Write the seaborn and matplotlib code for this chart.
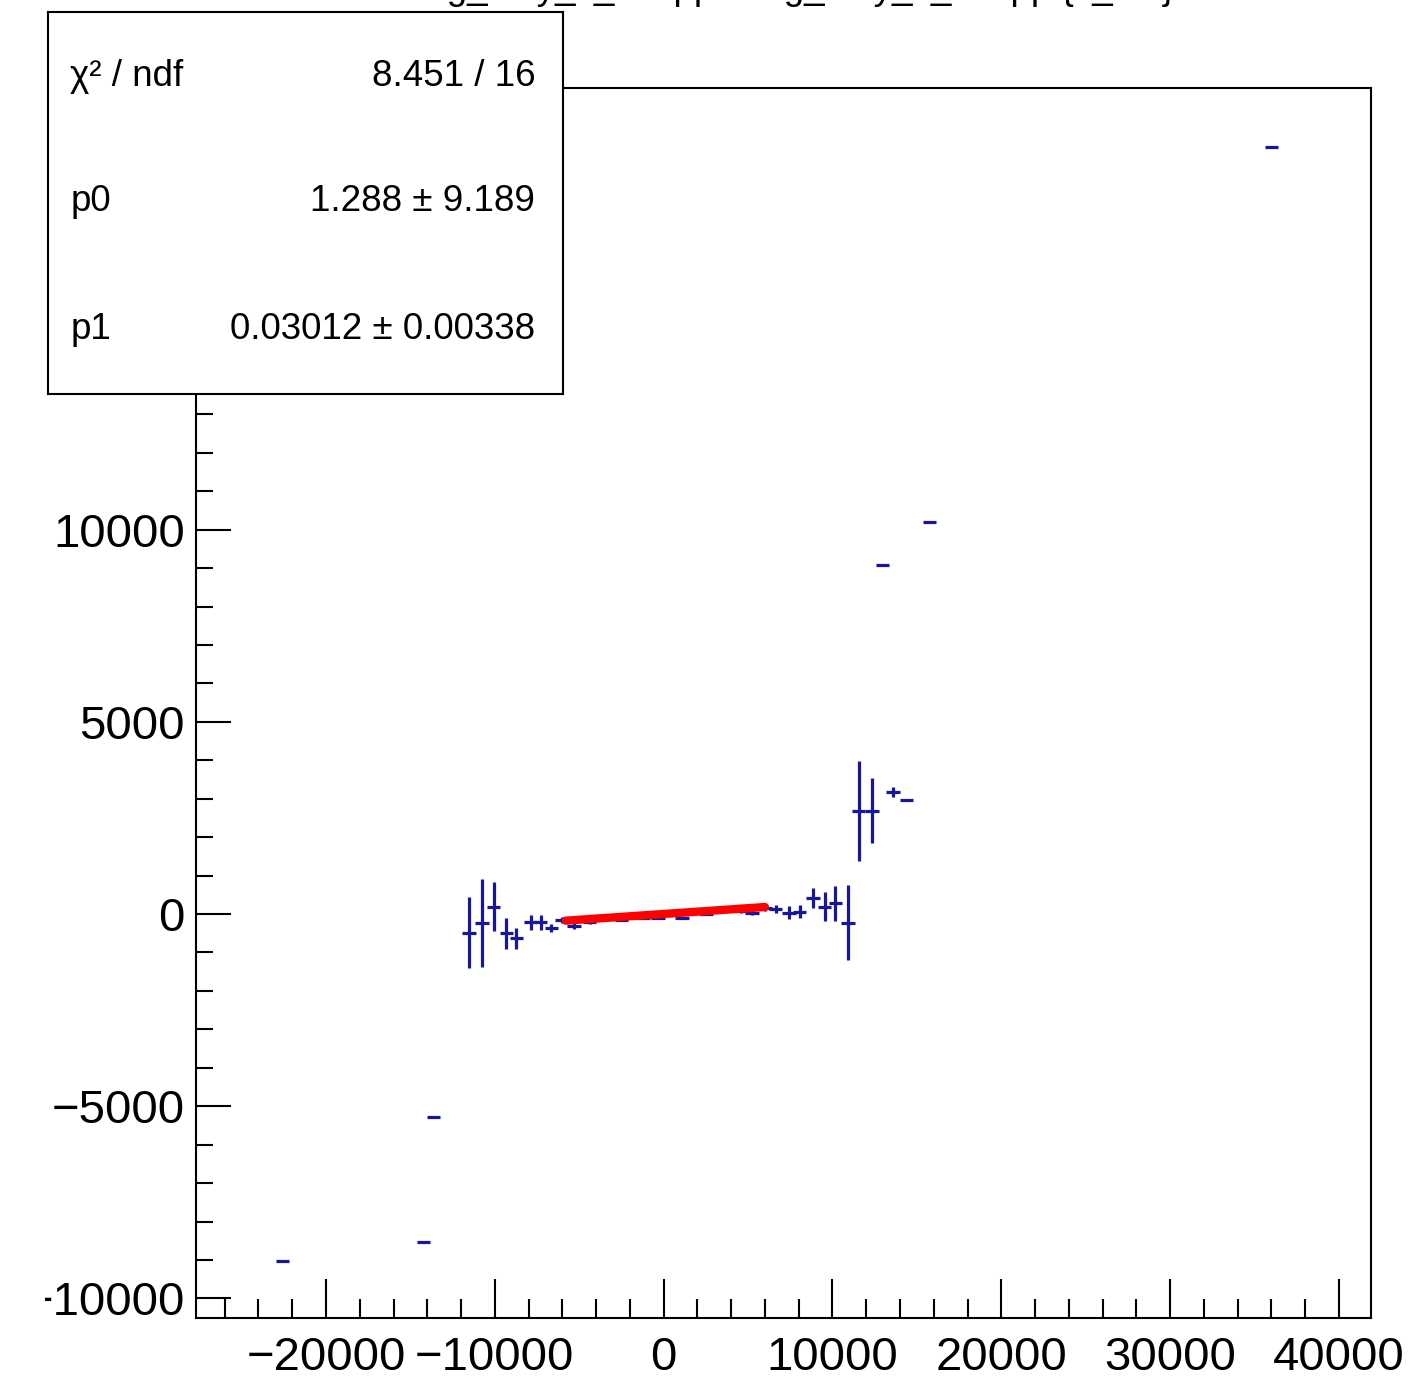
import numpy as np
import pandas as pd
import matplotlib
matplotlib.use('Agg')
import matplotlib.pyplot as plt
import seaborn as sns
from matplotlib.ticker import MultipleLocator
from matplotlib.transforms import Bbox, TransformedBbox

# data (profile points, x centre / mean / error)
x_vals = [-22570, -14220, -13630, -11530, -10750, -10070, -9320, -8730, -7880, -7290,
          -6650, -6020, -5310, -4380, -2500, -1220, -340, 1100, 2530, 4600,
          5230, 5990, 6630, 7420, 8060, 8850, 9540, 10170, 10920, 11550,
          12340, 12970, 13580, 14380, 15760, 36020]
y_vals = [-9030, -8530, -5280, -486, -226, 190, -502, -632, -216, -216,
          -372, -156, -312, -216, -156, -112, -96, -96, -8, 78,
          30, 150, 125, 34, 60, 405, 190, 278, -226, 2687,
          2687, 9080, 3182, 2966, 10200, 19950]
y_errs = [0, 0, 0, 920, 1140, 640, 400, 270, 190, 190,
          100, 80, 80, 40, 30, 30, 30, 30, 30, 40,
          50, 80, 100, 170, 170, 260, 380, 460, 980, 1300,
          850, 0, 130, 0, 0, 0]
bin_half_width = 400

# fit result (pol1) shown in the stats box
fit_range = [-5800, 6000]
p0, p0_err = 1.288, 9.189
p1, p1_err = 0.03012, 0.00338
chi2, ndf = 8.451, 16

title = "avg_dely_x_adcpp : avg_dely_x_adcpp {x_cut}"

df = pd.DataFrame({'x': x_vals, 'y': y_vals, 'ey': y_errs})
fit = pd.DataFrame({'x': fit_range})
fit['y'] = p0 + p1 * fit['x']

sns.set_style('ticks')
plt.rcParams['font.family'] = ['Liberation Sans', 'DejaVu Sans']
plt.rcParams['text.color'] = 'black'
plt.rcParams['xtick.labelcolor'] = 'black'
plt.rcParams['ytick.labelcolor'] = 'black'

W, H = 1409, 1378
fig = plt.figure(figsize=(W / 100, H / 100), dpi=100)
ax = fig.add_axes([196 / W, 1 - 1318 / H, (1371 - 196) / W, (1318 - 88) / H])

ax.errorbar(df['x'], df['y'], xerr=bin_half_width, yerr=df['ey'], fmt='none',
            ecolor='#17179e', elinewidth=2.3, capsize=0, zorder=3)
sns.lineplot(data=fit, x='x', y='y', ax=ax, color='#ff0000', linewidth=6, zorder=4)

ax.set_xlim(-27700, 41900)
ax.set_ylim(-10510, 21490)
ax.set_xlabel('')
ax.set_ylabel('')

ax.xaxis.set_major_locator(MultipleLocator(10000))
ax.xaxis.set_minor_locator(MultipleLocator(2000))
ax.yaxis.set_major_locator(MultipleLocator(5000))
ax.yaxis.set_minor_locator(MultipleLocator(1000))
ax.tick_params(axis='both', which='both', direction='in', color='black', width=1.5,
               top=False, right=False, labelsize=34, labelcolor='black')
ax.tick_params(axis='x', which='major', length=28, pad=13)
ax.tick_params(axis='x', which='minor', length=14)
ax.tick_params(axis='y', which='major', length=25, pad=8)
ax.tick_params(axis='y', which='minor', length=12)
for sp in ax.spines.values():
    sp.set_color('black')
    sp.set_linewidth(1.5)

# labels above 12000 sit under the stats box; the lowest one is clipped by the pad edge
fig.canvas.draw()
clip = TransformedBbox(Bbox([[45 / W, 0], [1, 1]]), fig.transFigure)
for val, lab in zip(ax.get_yticks(), ax.get_yticklabels()):
    lab.set_clip_box(clip)
    lab.set_clip_on(True)
    if val > 12000:
        lab.set_visible(False)

# stats box
box = fig.add_axes([48 / W, 1 - 394 / H, (563 - 48) / W, (394 - 12) / H], zorder=5)
box.set_facecolor('white')
box.set_xticks([])
box.set_yticks([])
for sp in box.spines.values():
    sp.set_color('black')
    sp.set_linewidth(1.5)
rows = [('χ² / ndf', f'{chi2:.3f} / {ndf}'),
        ('p0', f'{p0:.3f} ± {p0_err:.3f}'),
        ('p1', f'{p1:.5f} ± {p1_err:.5f}')]
for (name, val), yy in zip(rows, [0.832, 0.503, 0.168]):
    box.text(0.043, yy, name, ha='left', va='center', fontsize=26.5, color='black',
             transform=box.transAxes)
    box.text(0.946, yy, val, ha='right', va='center', fontsize=26.5, color='black',
             transform=box.transAxes)

# title sits above the top edge, only its descenders show
fig.text(0.561, 1 + 1.0 / H, title, ha='center', va='baseline', fontsize=26.5, color='black')

fig.savefig('out.png', dpi=100, facecolor='white')
